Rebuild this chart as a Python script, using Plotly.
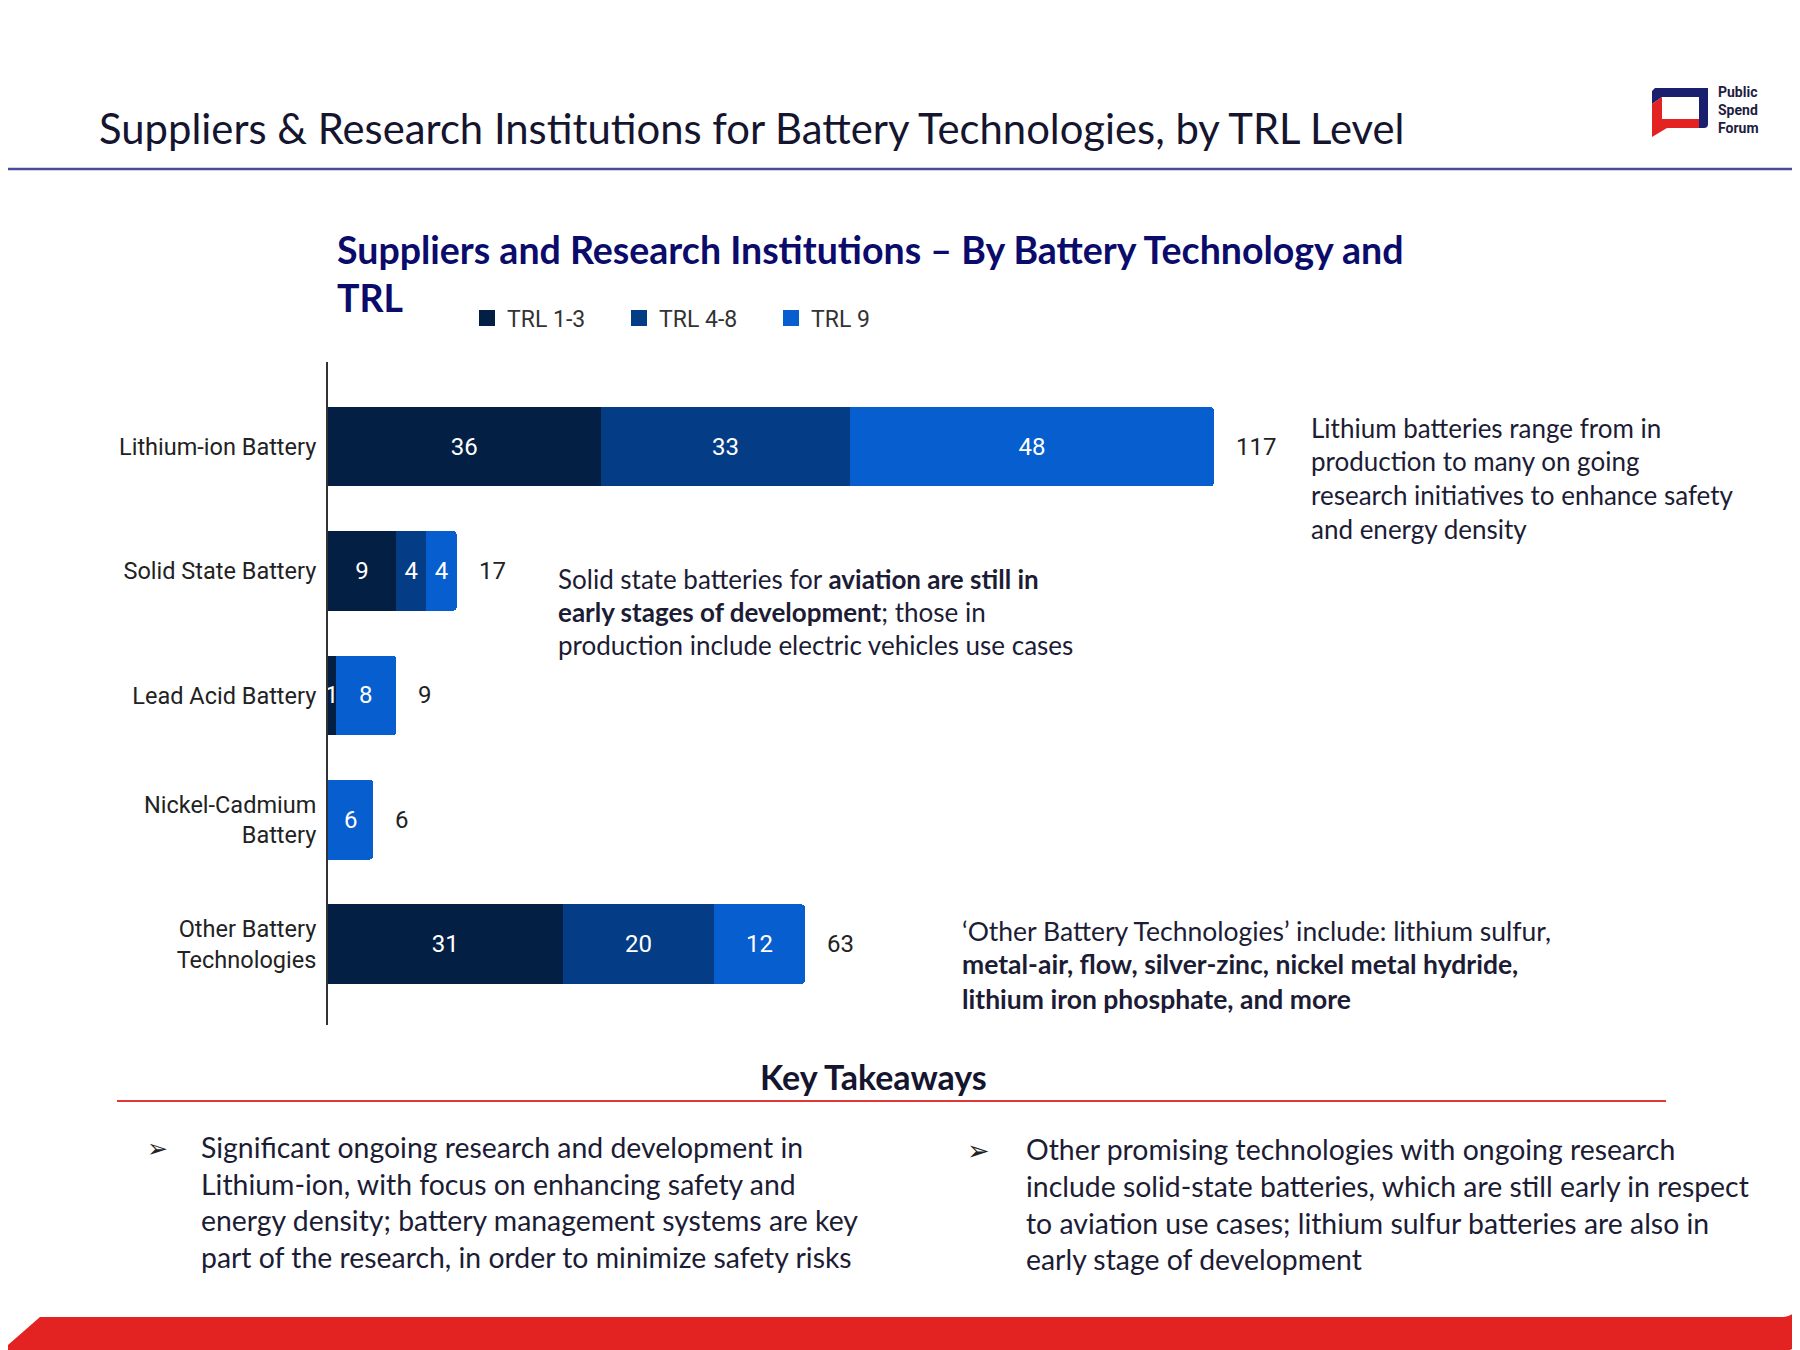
import plotly.graph_objects as go

# ---------------- data ----------------
categories = ["Lithium-ion Battery", "Solid State Battery", "Lead Acid Battery",
              "Nickel-Cadmium<br>Battery", "Other Battery<br>Technologies"]
trl_1_3 = [36, 9, 1, 0, 31]
trl_4_8 = [33, 4, 0, 0, 20]
trl_9 = [48, 4, 8, 6, 12]
series_names = ["TRL 1-3", "TRL 4-8", "TRL 9"]
totals = [a + b + c for a, b, c in zip(trl_1_3, trl_4_8, trl_9)]

# ---------------- layout geometry ----------------
WIDTH, HEIGHT = 1800, 1350
OFF = 8  # page offset of the figure
L, R, T, B = 320, 193, 354, 333
PW, PH = WIDTH - L - R, HEIGHT - T - B


def px(x):
    return (x - OFF - L) / PW


def py(y):
    return (HEIGHT - B - (y - OFF)) / PH


colors = ["#031f44", "#043c85", "#075ecf"]
CAL = "Lato, 'Open Sans', sans-serif"
ROB = "Roboto, sans-serif"
TXT = "#1c1c35"

fig = go.Figure()
for name, vals, col in zip(series_names, [trl_1_3, trl_4_8, trl_9], colors):
    fig.add_trace(go.Bar(
        y=categories, x=vals, name=name, orientation="h",
        marker=dict(color=col, line=dict(width=0)),
        text=[str(v) if v else "" for v in vals],
        textposition="inside", insidetextanchor="middle", textangle=0,
        constraintext="none",
        textfont=dict(family=ROB, size=24, color="white"),
        width=0.64, hoverinfo="skip", showlegend=False,
    ))
# legend entries (larger square swatches)
for name, col in zip(series_names, colors):
    fig.add_trace(go.Scatter(
        x=[None], y=[None], mode="markers", name=name,
        marker=dict(symbol="square", size=18, color=col),
        hoverinfo="skip", showlegend=True,
    ))

annotations = []
# totals
for cat, tot in zip(categories, totals):
    annotations.append(dict(x=tot, y=cat, xref="x", yref="y", text=str(tot),
                            showarrow=False, xanchor="left", xshift=20,
                            font=dict(family=ROB, size=24, color="#222222")))


def txt(x, y, s, size=26, bold=False, color=TXT, family=CAL, anchor="left"):
    if bold:
        s = "<b>" + s + "</b>"
    annotations.append(dict(x=px(x), y=py(y), xref="paper", yref="paper", text=s,
                            showarrow=False, xanchor=anchor, yanchor="middle",
                            font=dict(family=family, size=size, color=color)))


# header
txt(97, 128, "Suppliers &amp; Research Institutions for Battery Technologies, by TRL Level",
    size=41.8, color="#151530")
# chart title
txt(335, 250, "Suppliers and Research Institutions – By Battery Technology and",
    size=37.5, bold=True, color="#0b0b6b")
txt(335, 298, "TRL", size=37.5, bold=True, color="#0b0b6b")

# logo text
annotations.append(dict(x=px(1716), y=py(110), xref="paper", yref="paper",
                        text="<b>Public<br>Spend<br>Forum</b>", showarrow=False,
                        xanchor="left", yanchor="middle", align="left",
                        font=dict(family=ROB, size=14, color="#1d1d3f")))

# lithium note
for yy, s in zip([428, 461, 495, 529],
                 ["Lithium batteries range from in", "production to many on going",
                  "research initiatives to enhance safety", "and energy density"]):
    txt(1309, yy, s, size=26)
# solid state note
for yy, s in zip([579, 612, 645],
                 ["Solid state batteries for <b>aviation are still in</b>",
                  "<b>early stages of development</b>; those in",
                  "production include electric vehicles use cases"]):
    txt(556, yy, s, size=26)
# other note
for yy, s in zip([931, 964, 999],
                 ["‘Other Battery Technologies’ include: lithium sulfur,",
                  "<b>metal-air, flow, silver-zinc, nickel metal hydride,</b>",
                  "<b>lithium iron phosphate, and more</b>"]):
    txt(960, yy, s, size=26.5)

# key takeaways
txt(873, 1076, "Key Takeaways", size=34, bold=True, color="#151530", anchor="center")
txt(157, 1148, "➢", size=25, family="DejaVu Sans", color="#222222", anchor="center")
txt(978, 1150, "➢", size=27, family="DejaVu Sans", color="#222222", anchor="center")
for yy, s in zip([1147, 1184, 1220, 1257],
                 ["Significant ongoing research and development in",
                  "Lithium-ion, with focus on enhancing safety and",
                  "energy density; battery management systems are key",
                  "part of the research, in order to minimize safety risks"]):
    txt(199, yy, s, size=28.4)
for yy, s in zip([1149, 1186, 1223, 1259],
                 ["Other promising technologies with ongoing research",
                  "include solid-state batteries, which are still early in respect",
                  "to aviation use cases; lithium sulfur batteries are also in",
                  "early stage of development"]):
    txt(1024, yy, s, size=28.4)

shapes = []
# header rule
shapes.append(dict(type="line", xref="paper", yref="paper", x0=px(0), x1=px(1810),
                   y0=py(169), y1=py(169), line=dict(color="#4b4b9b", width=2.5)))
# key takeaways rule
shapes.append(dict(type="line", xref="paper", yref="paper", x0=px(117), x1=px(1666),
                   y0=py(1101), y1=py(1101), line=dict(color="#e03838", width=2)))


def path(points_cmds):
    out = []
    for cmd in points_cmds:
        if isinstance(cmd, str):
            out.append(cmd)
        else:
            out.append(f"{px(cmd[0]):.5f},{py(cmd[1]):.5f}")
    return " ".join(out)


# bottom red band
shapes.append(dict(type="path", xref="paper", yref="paper", line=dict(width=0),
                   fillcolor="#e32321",
                   path=path(["M", (0, 1352), "L", (40, 1317), "L", (1784, 1317),
                              "Q", (1797, 1315), (1800, 1302), "L", (1800, 1334),
                              "Q", (1799, 1349), (1784, 1352), "Z"])))
# logo icon
shapes.append(dict(type="path", xref="paper", yref="paper", line=dict(width=0),
                   fillcolor="#1a1f6e",
                   path=path(["M", (1655, 88), "L", (1708, 88), "L", (1708, 124),
                              "Q", (1708, 128), (1704, 128), "L", (1699, 128),
                              "L", (1699, 97), "L", (1662, 97), "L", (1652, 104),
                              "L", (1652, 91), "Z"])))
shapes.append(dict(type="path", xref="paper", yref="paper", line=dict(width=0),
                   fillcolor="#e32321",
                   path=path(["M", (1652, 104), "L", (1662, 97), "L", (1662, 119),
                              "L", (1699, 119), "L", (1699, 128), "L", (1667, 128),
                              "L", (1652, 137), "Z"])))

fig.update_layout(
    width=WIDTH, height=HEIGHT,
    margin=dict(l=L, r=R, t=T, b=B, autoexpand=False),
    barmode="stack", bargap=0.36, barcornerradius=4,
    paper_bgcolor="white", plot_bgcolor="white",
    showlegend=True,
    legend=dict(orientation="h", x=px(467), y=py(318), xanchor="left", yanchor="middle",
                font=dict(family=ROB, size=23, color="#333333"),
                traceorder="normal", entrywidth=107, itemclick=False,
                itemsizing="trace", bgcolor="rgba(0,0,0,0)"),
    uniformtext=dict(minsize=24, mode="show"),
    xaxis=dict(range=[0, 170], visible=False, showgrid=False, zeroline=False),
    yaxis=dict(type="category", categoryorder="array", categoryarray=categories,
               range=[4.65, -0.68], autorange=False, showgrid=False, zeroline=False,
               showline=True, linecolor="#333333", linewidth=2, ticks="",
               ticklabelstandoff=5,
               tickfont=dict(family=ROB, size=23.5, color="#222222")),
    annotations=annotations, shapes=shapes,
    font=dict(family=ROB),
)

fig.write_html("out.html")
